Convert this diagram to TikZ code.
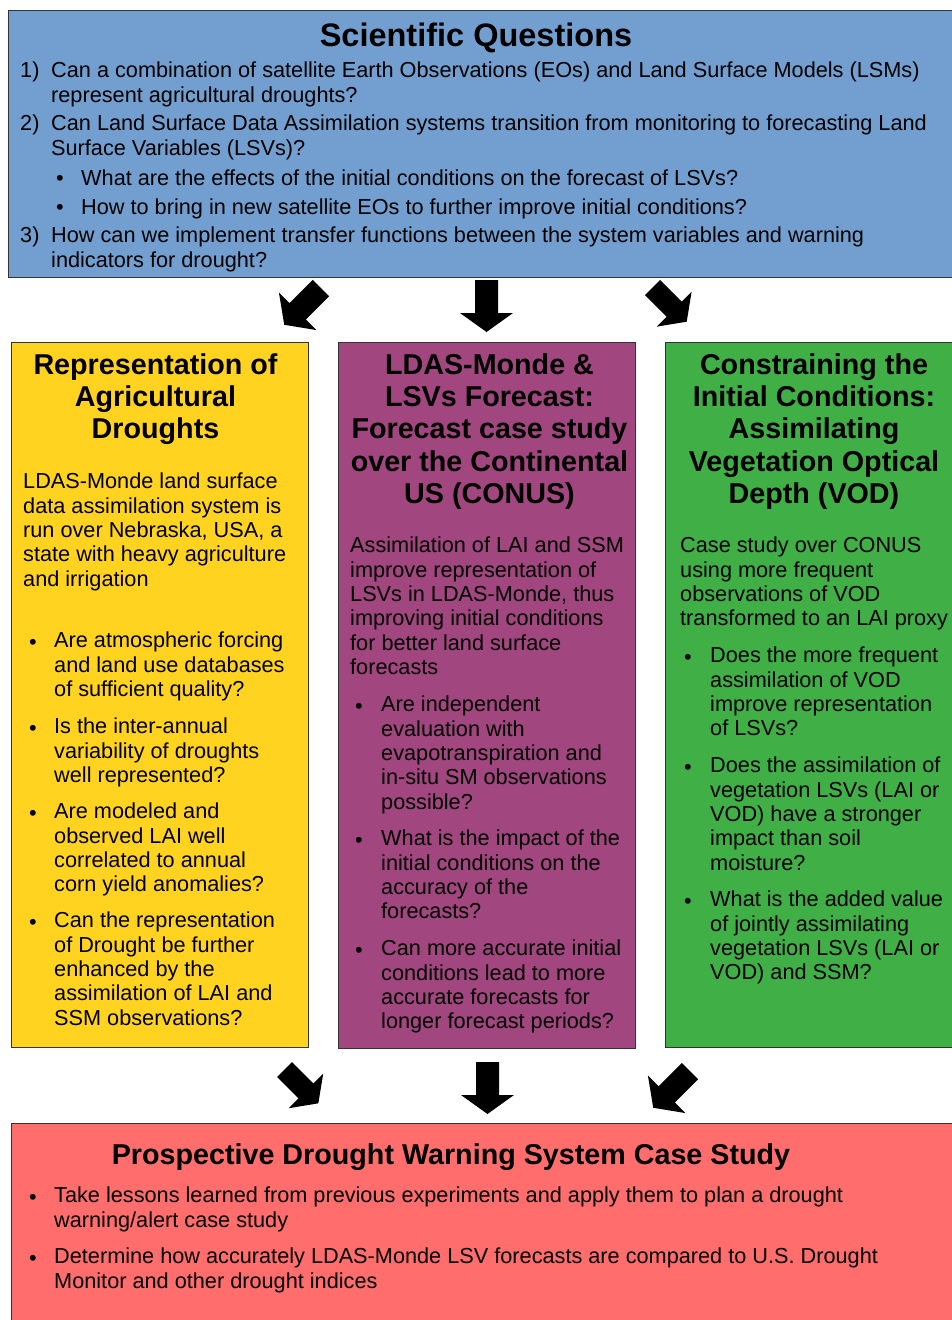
\documentclass[tikz,border=0pt]{standalone}
\usepackage{fontspec}
\setmainfont{Liberation Sans}
\definecolor{qblue}{HTML}{729FCF}
\definecolor{ayellow}{HTML}{FFD320}
\definecolor{lpurple}{HTML}{A1467E}
\definecolor{cgreen}{HTML}{3FAF46}
\definecolor{pred}{HTML}{FF6D6D}
\tikzset{
  box/.style={draw=black!80, line width=1pt, anchor=north west, inner sep=0pt, outer sep=0pt},
  body/.style={font=\fontsize{21.7}{24.3}\selectfont, anchor=north west, align=left, inner sep=0pt, yshift=-2pt, execute at begin node={\rule{0pt}{17pt}}},
  ttl/.style={font=\fontsize{28.7}{32.2}\selectfont\bfseries, anchor=north, align=center, inner sep=0pt, yshift=-1pt, execute at begin node={\rule{0pt}{22.5pt}}},
  bul/.style={font=\fontsize{21.7}{24.3}\selectfont, anchor=base west, inner sep=0pt},
  blockarrow/.pic={\fill[black] (-11.5,0) -- (11.5,0) -- (11.5,-33) -- (26.5,-33) -- (0,-52) -- (-26.5,-33) -- (-11.5,-33) -- cycle;}
}
\begin{document}
\begin{tikzpicture}[x=1pt,y=1pt]
\useasboundingbox (0,0) rectangle (952,-1320);
\clip (0,0) rectangle (952,-1320);
\fill[white] (0,0) rectangle (952,-1320);

% ---------- boxes ----------
\node[box, fill=qblue, minimum width=960pt, minimum height=267pt] (qbox) at (8,-10) {};
\node[box, fill=ayellow, minimum width=297pt, minimum height=705pt] (abox) at (11,-342) {};
\node[box, fill=lpurple, minimum width=297pt, minimum height=706pt] (lbox) at (338,-342) {};
\node[box, fill=cgreen, minimum width=297pt, minimum height=705pt] (cbox) at (665,-342) {};
\node[box, fill=pred, minimum width=960pt, minimum height=220pt] (pbox) at (11,-1123) {};

% ---------- Scientific questions ----------
\node[font=\fontsize{32.5}{36}\selectfont\bfseries, anchor=base, inner sep=0pt] (qt) at (476,-46) {Scientific Questions};
\node[bul] (qn1) at (20,-77) {1)};
\node[body] (q1) at (51,-60) {Can a combination of satellite Earth Observations (EOs) and Land Surface Models (LSMs)\\represent agricultural droughts?};
\node[bul] (qn2) at (20,-130) {2)};
\node[body] (q2) at (51,-113) {Can Land Surface Data Assimilation systems transition from monitoring to forecasting Land\\Surface Variables (LSVs)?};
\node[bul] (qb1) at (56,-185) {•};
\node[body] (q2a) at (81,-166) {What are the effects of the initial conditions on the forecast of LSVs?};
\node[bul] (qb2) at (56,-214) {•};
\node[body] (q2b) at (81,-195) {How to bring in new satellite EOs to further improve initial conditions?};
\node[bul] (qn3) at (20,-242) {3)};
\node[body] (q3) at (51,-225) {How can we implement transfer functions between the system variables and warning\\indicators for drought?};

% ---------- Agricultural droughts ----------
\node[ttl] (at) at (155.5,-352.5) {Representation of\\Agricultural\\Droughts};
\node[body] (ap) at (23,-471) {LDAS-Monde land surface\\data assimilation system is\\run over Nebraska, USA, a\\state with heavy agriculture\\and irrigation};
\node[bul] (ab1) at (29,-649) {•};
\node[body] (a1) at (54,-630) {Are atmospheric forcing\\and land use databases\\of sufficient quality?};
\node[bul] (ab2) at (29,-735) {•};
\node[body] (a2) at (54,-716) {Is the inter-annual\\variability of droughts\\well represented?};
\node[bul] (ab3) at (29,-820) {•};
\node[body] (a3) at (54,-801) {Are modeled and\\observed LAI well\\correlated to annual\\corn yield anomalies?};
\node[bul] (ab4) at (29,-929) {•};
\node[body] (a4) at (54,-910) {Can the representation\\of Drought be further\\enhanced by the\\assimilation of LAI and\\SSM observations?};

% ---------- LDAS-Monde forecast ----------
\node[ttl] (lt) at (489.5,-352.5) {LDAS-Monde \&\\LSVs Forecast:\\Forecast case study\\over the Continental\\US (CONUS)};
\node[body] (lp) at (350,-535) {Assimilation of LAI and SSM\\improve representation of\\LSVs in LDAS-Monde, thus\\improving initial conditions\\for better land surface\\forecasts};
\node[bul] (lb1) at (355,-713) {•};
\node[body] (l1) at (381,-694) {Are independent\\evaluation with\\evapotranspiration and\\in-situ SM observations\\possible?};
\node[bul] (lb2) at (355,-847) {•};
\node[body] (l2) at (381,-828) {What is the impact of the\\initial conditions on the\\accuracy of the\\forecasts?};
\node[bul] (lb3) at (355,-957) {•};
\node[body] (l3) at (381,-938) {Can more accurate initial\\conditions lead to more\\accurate forecasts for\\longer forecast periods?};

% ---------- Constraining initial conditions ----------
\node[ttl] (ct) at (814,-352.5) {Constraining the\\Initial Conditions:\\Assimilating\\Vegetation Optical\\Depth (VOD)};
\node[body] (cp) at (680,-535) {Case study over CONUS\\using more frequent\\observations of VOD\\transformed to an LAI proxy};
\node[bul] (cb1) at (684,-664) {•};
\node[body] (c1) at (710,-645) {Does the more frequent\\assimilation of VOD\\improve representation\\of LSVs?};
\node[bul] (cb2) at (684,-774) {•};
\node[body] (c2) at (710,-755) {Does the assimilation of\\vegetation LSVs (LAI or\\VOD) have a stronger\\impact than soil\\moisture?};
\node[bul] (cb3) at (684,-908) {•};
\node[body] (c3) at (710,-889) {What is the added value\\of jointly assimilating\\vegetation LSVs (LAI or\\VOD) and SSM?};

% ---------- Prospective drought warning ----------
\node[ttl] (pt) at (451,-1140.8) {Prospective Drought Warning System Case Study};
\node[bul] (pb1) at (29,-1204) {•};
\node[body] (p1) at (54,-1185) {Take lessons learned from previous experiments and apply them to plan a drought\\warning/alert case study};
\node[bul] (pb2) at (29,-1265) {•};
\node[body] (p2) at (54,-1246) {Determine how accurately LDAS-Monde LSV forecasts are compared to U.S. Drought\\Monitor and other drought indices};

% ---------- block arrows ----------
\pic[rotate=-45] at (321,-288) {blockarrow};
\pic at (486.5,-280) {blockarrow};
\pic[rotate=45, scale=0.93] at (652.5,-287.5) {blockarrow};
\pic[rotate=45, scale=0.92] at (284.5,-1069.5) {blockarrow};
\pic at (487.5,-1062) {blockarrow};
\pic[rotate=-45] at (690,-1071) {blockarrow};
\end{tikzpicture}
\end{document}
